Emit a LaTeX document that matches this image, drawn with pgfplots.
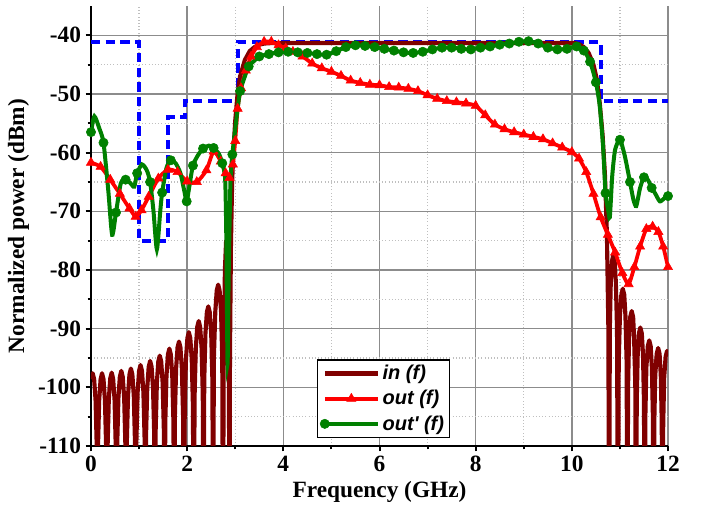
\documentclass[border=0pt]{standalone}
\usepackage{fontspec}
\setmainfont{Liberation Serif}
\newfontfamily\legfont{Liberation Sans}
\usepackage{pgfplots}
\pgfplotsset{compat=1.18}
\definecolor{indark}{RGB}{128,0,0}
\definecolor{outred}{RGB}{255,0,0}
\definecolor{outgreen}{RGB}{0,128,0}
\definecolor{maskblue}{RGB}{0,0,255}

\begin{document}
\begin{tikzpicture}
  \useasboundingbox (-68.25pt,-52.5pt) rectangle (459.75pt,334.5pt);
  \begin{axis}[
    at={(0,0)}, anchor=south west,
    scale only axis, width=432.75pt, height=330pt,
    xmin=0, xmax=12, ymin=-110, ymax=-35,
    xtick={0,2,...,12}, ytick={-110,-100,...,-40},
    minor xtick={1,3,...,11}, minor ytick={-105,-95,...,-45},
    grid=both,
    major grid style={draw=black!45, line width=1.2pt},
    minor grid style={draw=black!25, dotted, line width=0.9pt},
    axis x line*=bottom, axis y line*=left,
    axis line style={line width=2pt, -},
    tick align=outside, major tick length=4pt, minor tick length=2.5pt,
    every tick/.style={black, line width=1.5pt},
    /pgf/number format/assume math mode=true,
    ticklabel style={font=\fontsize{17.5}{21}\selectfont\bfseries},
    label style={font=\fontsize{17.5}{21}\selectfont\bfseries},
    xlabel={Frequency (GHz)}, ylabel={Normalized power (dBm)},
    legend style={at={(0.391,0.0175)}, anchor=south west, draw=black,
      line width=1.3pt, font=\legfont\bfseries\itshape\fontsize{15}{18}\selectfont,
      inner sep=2pt, row sep=2.5pt, cells={anchor=west}},
    legend image code/.code={\draw[mark repeat=2,mark phase=2]
      plot coordinates {(0cm,0cm) (0.7cm,0cm) (1.4cm,0cm)};},
  ]
    % mask (no legend entry)
    \addplot[maskblue, line width=3pt, dash pattern=on 7pt off 4pt, forget plot] coordinates {
      (0,-41.2)(1.0,-41.2)(1.0,-75)(1.6,-75)(1.6,-54)(1.95,-54)(1.95,-51.2)
      (3.06,-51.2)(3.06,-41.2)(10.6,-41.2)(10.6,-51.2)(12,-51.2)
    };
    % in(f)
    \addplot[indark, line width=3.1pt, line join=round] coordinates {
      (0,-98.6)(0.035,-97.6)(0.065,-98.6)(0.095,-102.2)(0.12,-110.2)(0.1325,-130)
      (0.145,-110.2)(0.17,-102.2)(0.2,-98.6)(0.23,-97.6)(0.26,-98.6)(0.29,-102.2)(0.315,-110.2)(0.33,-130)
      (0.345,-110.1)(0.37,-102.1)(0.4,-98.5)(0.43,-97.5)(0.46,-98.5)(0.49,-102.1)(0.515,-110.1)(0.53,-130)
      (0.545,-109.8)(0.57,-101.8)(0.6,-98.2)(0.63,-97.2)(0.66,-98.2)(0.69,-101.8)(0.715,-109.8)(0.73,-130)
      (0.745,-109.4)(0.77,-101.4)(0.8,-97.8)(0.83,-96.8)(0.86,-97.8)(0.89,-101.4)(0.915,-109.4)(0.93,-130)
      (0.945,-108.8)(0.97,-100.8)(1.0,-97.2)(1.03,-96.2)(1.06,-97.2)(1.09,-100.8)(1.115,-108.8)(1.13,-130)
      (1.145,-108.1)(1.17,-100.1)(1.2,-96.5)(1.23,-95.5)(1.26,-96.5)(1.29,-100.1)(1.315,-108.1)(1.33,-130)
      (1.345,-107.2)(1.37,-99.2)(1.4,-95.6)(1.43,-94.6)(1.46,-95.6)(1.49,-99.2)(1.515,-107.2)(1.53,-130)
      (1.545,-106)(1.57,-98)(1.6,-94.4)(1.63,-93.4)(1.66,-94.4)(1.69,-98)(1.715,-106)(1.73,-130)
      (1.745,-104.8)(1.77,-96.8)(1.8,-93.2)(1.83,-92.2)(1.86,-93.2)(1.89,-96.8)(1.915,-104.8)(1.93,-130)
      (1.95,-103.2)(1.975,-95.2)(2.005,-91.6)(2.035,-90.6)(2.065,-91.6)(2.095,-95.2)(2.12,-103.2)(2.135,-130)
      (2.155,-101.3)(2.18,-93.3)(2.21,-89.7)(2.24,-88.7)(2.27,-89.7)(2.3,-93.3)(2.325,-101.3)(2.34,-130)
      (2.355,-98.8)(2.38,-90.8)(2.41,-87.2)(2.44,-86.2)(2.47,-87.2)(2.5,-90.8)(2.525,-98.8)(2.54,-130)
      (2.555,-95.1)(2.585,-87.1)(2.615,-83.5)(2.645,-82.5)(2.675,-83.5)(2.705,-87.1)(2.73,-95.1)(2.745,-130)
      (2.76,-95)(2.785,-80)(2.81,-75)(2.835,-75)(2.855,-82)(2.868,-95)(2.878,-130)
      (2.89,-95)(2.91,-76)(2.935,-65)(2.96,-60)(3.0,-54.5)(3.05,-49.8)(3.1,-47)
      (3.2,-44.2)(3.3,-42.7)(3.4,-42)(3.5,-41.6)(3.6,-41.4)(3.8,-41.3)
      (10.05,-41.3)(10.15,-41.5)(10.25,-42)(10.35,-43)(10.45,-45)(10.52,-47.5)
      (10.58,-51.5)(10.64,-57)(10.69,-64)(10.73,-74)(10.76,-90)(10.775,-130)
      (10.79,-90)(10.81,-82)(10.835,-78.5)(10.86,-77.5)(10.89,-78.5)(10.915,-82)(10.94,-90)(10.96,-130)
      (10.975,-95.8)(11.0,-87.8)(11.03,-84.2)(11.06,-83.2)(11.09,-84.2)(11.115,-87.8)(11.14,-95.8)(11.155,-130)
      (11.17,-99.6)(11.19,-91.6)(11.215,-88)(11.245,-87)(11.275,-88)(11.295,-91.6)(11.32,-99.6)(11.335,-130)
      (11.35,-102.4)(11.37,-94.4)(11.395,-90.8)(11.425,-89.8)(11.455,-90.8)(11.48,-94.4)(11.5,-102.4)(11.515,-130)
      (11.53,-104.6)(11.55,-96.6)(11.58,-93)(11.61,-92)(11.64,-93)(11.665,-96.6)(11.685,-104.6)(11.7,-130)
      (11.715,-105.9)(11.735,-97.9)(11.765,-94.3)(11.795,-93.3)(11.825,-94.3)(11.85,-97.9)(11.87,-105.9)(11.885,-130)
      (11.9,-106.4)(11.92,-98.4)(11.95,-94.8)(11.98,-93.8)(12.0,-94.1)
    };
    \addlegendentry{in (f)}
    % out(f)
    \addplot[outred, line width=2.8pt, smooth, tension=0.4,
      mark=triangle*, mark size=4pt, mark options={solid, line width=0.4pt}] coordinates {
      (0.0,-61.7)(0.2,-62.4)(0.4,-64.6)(0.6,-67.0)(0.8,-69.5)(0.93,-70.9)(1.05,-69.8)
      (1.2,-67.5)(1.4,-64.4)(1.6,-62.9)(1.8,-63.3)(2.0,-64.9)(2.2,-65.0)(2.4,-63.0)
      (2.55,-59.8)(2.7,-61.5)(2.8,-63.5)(2.88,-64.3)(2.95,-62.0)(3.0,-58.0)(3.05,-52.5)
      (3.12,-49.0)(3.22,-46.0)(3.33,-43.6)(3.45,-42.0)(3.6,-41.1)(3.75,-41.1)(3.9,-41.7)
      (4.05,-42.2)(4.2,-42.8)(4.4,-43.6)(4.6,-44.8)(4.8,-45.6)(5.0,-46.2)(5.2,-46.9)
      (5.4,-47.7)(5.6,-48.1)(5.8,-48.4)(6.0,-48.5)(6.2,-48.8)(6.4,-48.9)(6.6,-49.1)
      (6.8,-49.5)(7.0,-50.2)(7.2,-50.8)(7.4,-51.2)(7.6,-51.4)(7.8,-51.6)(8.0,-52.0)
      (8.2,-53.6)(8.4,-55.2)(8.6,-56.0)(8.8,-56.5)(9.0,-56.9)(9.2,-57.3)(9.4,-57.7)
      (9.6,-58.4)(9.8,-59.1)(10.0,-59.9)(10.15,-61.0)(10.3,-63.3)(10.45,-67.0)
      (10.6,-71.0)(10.75,-74.0)(10.9,-77.0)(11.05,-80.5)(11.18,-82.4)(11.3,-79.5)
      (11.42,-76.0)(11.55,-73.0)(11.68,-72.6)(11.8,-73.5)(11.9,-76.0)(12.0,-79.5)
    };
    \addlegendentry{out (f)}
    % out'(f)
    \addplot[outgreen, line width=3pt, smooth, tension=0.4,
      mark=*, mark size=3.5pt, mark options={solid, line width=0.4pt},
      mark indices={1,4,7,9,12,15,19,21,25,27,29,31,33,39,42,44,46,47,48,49,50,
        51,52,53,54,55,56,57,58,59,60,61,62,63,64,65,66,67,68,69,70,71,72,73,74,
        75,76,77,78,79,80,81,82,85,90,92,96,98,102}] coordinates {
      (0.00,-56.5)(0.07,-53.8)(0.17,-55.8)(0.26,-58.3)(0.36,-66.5)(0.44,-74.0)
      (0.52,-70.2)(0.62,-65.2)(0.72,-64.6)(0.82,-65.2)(0.90,-65.8)(0.96,-63.5)
      (1.06,-62.0)(1.16,-63.0)(1.23,-65.0)(1.30,-70.0)(1.37,-76.5)(1.44,-70.0)
      (1.48,-66.8)(1.57,-62.6)(1.66,-61.3)(1.76,-61.8)(1.86,-63.5)(1.94,-66.5)
      (1.99,-68.3)(2.05,-65.5)(2.12,-62.2)(2.22,-60.5)(2.33,-59.3)(2.45,-58.8)
      (2.55,-59.2)(2.66,-60.2)(2.73,-61.8)(2.79,-64.5)(2.815,-75.0)(2.84,-96.0)
      (2.865,-80.0)(2.90,-65.0)(2.94,-60.3)(3.00,-56.0)(3.05,-52.5)(3.10,-49.5)
      (3.20,-47.0)(3.28,-45.3)(3.40,-44.3)(3.50,-43.6)(3.70,-43.2)(3.90,-42.9)
      (4.10,-42.8)(4.30,-42.9)(4.50,-43.0)(4.70,-43.2)(4.90,-43.3)(5.10,-42.7)
      (5.30,-42.0)(5.50,-41.7)(5.70,-41.8)(5.90,-42.0)(6.10,-42.3)(6.30,-42.6)
      (6.50,-42.9)(6.70,-43.0)(6.90,-42.8)(7.10,-42.4)(7.30,-42.1)(7.50,-42.1)
      (7.70,-42.3)(7.90,-42.4)(8.10,-42.1)(8.30,-41.9)(8.50,-41.6)(8.70,-41.4)
      (8.90,-41.1)(9.10,-41.0)(9.30,-41.4)(9.50,-42.1)(9.70,-42.4)(9.90,-42.3)
      (10.10,-41.9)(10.25,-42.6)(10.38,-44.5)(10.50,-48.0)(10.58,-52.0)(10.65,-59.0)
      (10.70,-66.9)(10.75,-69.5)(10.79,-71.0)(10.84,-64.0)(10.90,-59.5)(11.00,-57.8)
      (11.10,-60.5)(11.21,-65.0)(11.28,-68.0)(11.34,-69.1)(11.42,-66.0)(11.50,-64.2)
      (11.58,-64.6)(11.66,-66.0)(11.73,-66.9)(11.83,-68.3)(11.92,-67.8)(12.00,-67.4)
    };
    \addlegendentry{out\textquotesingle{} (f)}
  \end{axis}
\end{tikzpicture}
\end{document}
